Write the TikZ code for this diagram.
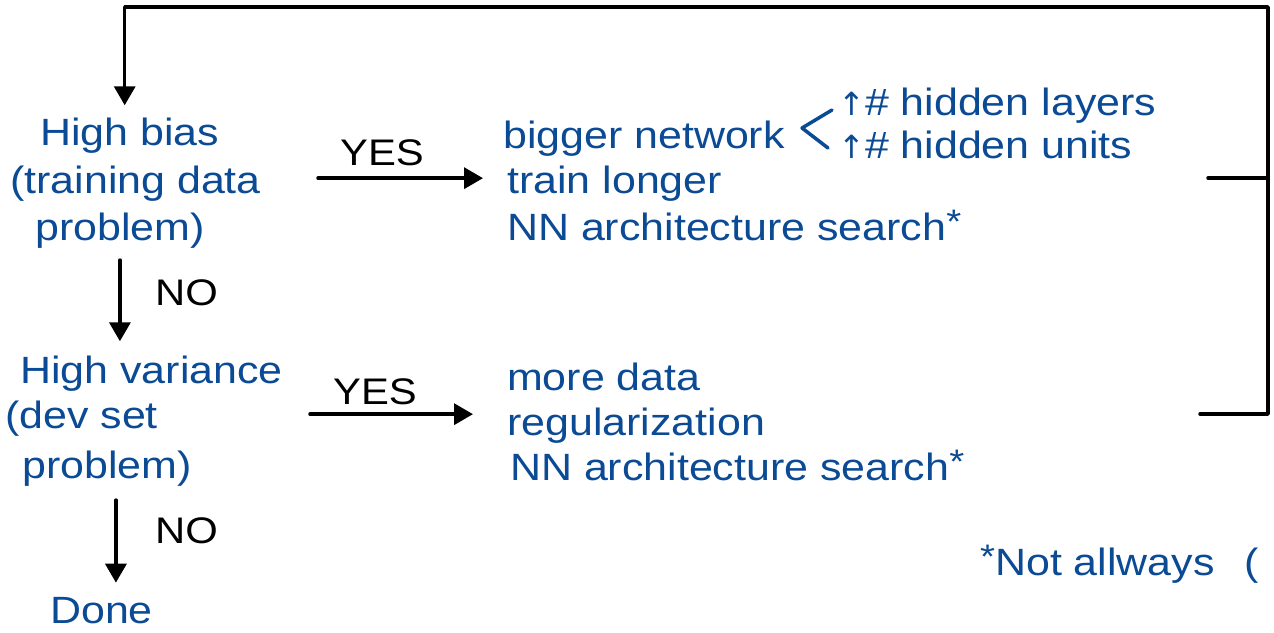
\documentclass[tikz,border=0pt]{standalone}
\usepackage{fontspec}
\setmainfont[FakeStretch=1.13]{Liberation Sans}
\newfontfamily\symfont{DejaVu Sans}
\usetikzlibrary{arrows.meta,calc}
\definecolor{ink}{HTML}{0B4A94}
\newcommand{\myast}{{\fontsize{34}{34}\selectfont\raisebox{7pt}{*}}}
\newcommand{\upar}{{\symfont\fontsize{32}{32}\selectfont ↑}}
\begin{document}
\begin{tikzpicture}[x=1pt,y=-1pt,
 txt/.style={inner sep=0pt, anchor=base west, text=ink, font=\fontsize{38}{44}\selectfont},
 lbl/.style={inner sep=0pt, anchor=base west, text=black, font=\fontsize{37}{40}\selectfont},
 conn/.style={draw=black, line width=3.5pt, line cap=round, line join=round},
 arr/.style={conn, -{Triangle[width=21pt,length=19pt]}},
 inkline/.style={draw=ink, line width=3.5pt, line cap=round, line join=round},
]
\useasboundingbox[fill=white] (0,0) rectangle (1274,632);

% left column
\node[txt] (hb1) at (40,145) {High bias};
\node[txt] (hb2) at (10,193) {(training data};
\node[txt] (hb3) at (35,240) {problem)};
\node[txt] (hv1) at (20,383) {High variance};
\node[txt] (hv2) at (5,428) {(dev set};
\node[txt] (hv3) at (22,478) {problem)};
\node[txt] (done) at (50,623) {Done};

% labels
\node[lbl] (yes1) at (340,165) {YES};
\node[lbl] (yes2) at (333,404) {YES};
\node[lbl] (no1) at (155,305) {NO};
\node[lbl] (no2) at (155,543) {NO};

% right blocks
\node[txt] (r1) at (503,148) {bigger network};
\node[txt] (u1) at (838,115) {\upar\# hidden layers};
\node[txt] (u2) at (838,158) {\upar\# hidden units};
\node[txt] (r2) at (507,193) {train longer};
\node[txt] (r3) at (507,240) {NN architecture search\myast};
\node[txt] (s1) at (507,390) {more data};
\node[txt] (s2) at (507,435) {regularization};
\node[txt] (s3) at (510,480) {NN architecture search\myast};
\node[txt] (fn) at (980,575) {\myast Not allways\hspace{30pt}(};

% branching mark
\draw[inkline] (832,110) -- (802,128) -- (828,148);

% bracket and feedback loop
\coordinate (b1) at (1208,178);
\coordinate (b2) at (1200,414);
\coordinate (rtop) at (1268,7);
\coordinate (rmid) at (1268,178);
\coordinate (rbot) at (1268,414);
\draw[conn] (b1) -- (rmid);
\draw[arr, shorten >=12pt] (b2) -- (rbot) -- (rtop) -| ($(hb1.north)+(-5,0)$);

% flow arrows
\draw[arr] ($(yes1.west |- hb2.east)+(-22,-5)$) -- ($(r2.west |- hb2.east)+(-24,-5)$);
\draw[arr] ($(yes2.west |- hv2.east)+(-23,-4)$) -- ($(s2.west |- hv2.east)+(-34,-4)$);
\draw[arr, shorten <=12pt, shorten >=14pt] (hb3.south) -- (hb3.south |- hv1.north);
\draw[arr, shorten <=14pt, shorten >=14pt] ($(hv3.south)+(9,0)$) -- ($(hv3.south |- done.north)+(9,0)$);
\end{tikzpicture}
\end{document}
